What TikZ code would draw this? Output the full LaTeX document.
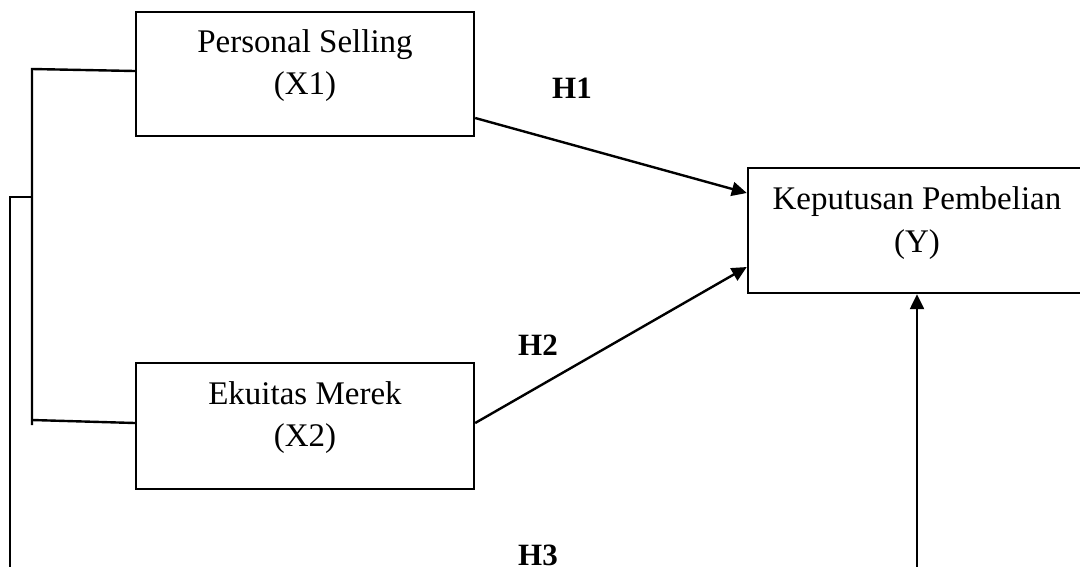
\documentclass[tikz,border=0pt]{standalone}
\usepackage{fontspec}
\setmainfont{Liberation Serif}
\usetikzlibrary{arrows.meta,calc}
\begin{document}
\begin{tikzpicture}[x=1pt,y=-1pt,
 box/.style={draw,line width=2.4pt,minimum width=338pt,minimum height=124pt,inner sep=0pt},
 lbl/.style={inner sep=0pt,anchor=base,font=\fontsize{33}{40}\selectfont},
 hyp/.style={inner sep=0pt,anchor=base west,font=\fontsize{31}{36}\selectfont\bfseries},
 conn/.style={line width=2.4pt},
 arr/.style={line width=2.4pt,-{Triangle[length=15pt,width=14pt]}}]
\useasboundingbox (0,0) rectangle (1080,566);
\clip (0,0) rectangle (1080,566);
% boxes
\node[box] (b1) at (305,74) {};
\node[box, minimum height=126pt] (b2) at (305,426) {};
\node[box, minimum height=125pt] (by) at (917,230.5) {};
% texts
\node[lbl] (t1a) at (305,52) {Personal Selling};
\node[lbl] (t1b) at (305,94) {(X1)};
\node[lbl] (t2a) at (305,404) {Ekuitas Merek};
\node[lbl] (t2b) at (305,446) {(X2)};
\node[lbl] (tya) at (917,209) {Keputusan Pembelian};
\node[lbl] (tyb) at (917,252) {(Y)};
% hypothesis labels
\node[hyp] (h1) at (552,98) {H1};
\node[hyp] (h2) at (518,355) {H2};
\node[hyp] (h3) at (518,565) {H3};
% junction coordinates
\coordinate (jt) at (32,69);
\coordinate (jm) at (32,197);
\coordinate (jb) at (32,420);
\coordinate (je) at (32,425);
\coordinate (om) at (10,197);
\coordinate (ob) at (10,575);
\coordinate (yb) at (917,575);
% arrows to Y
\draw[arr] ($(b1.east)+(0,44)$) -- ($(by.west)+(0,-37.5)$);
\draw[arr] ($(b2.east)+(0,-3)$) -- ($(by.west)+(0,36.5)$);
\draw[arr] (yb) -- (by.south);
% left bracket
\draw[conn] ($(b1.west)+(0,-3)$) -- (jt) -- (je);
\draw[conn] (jb) -- ($(b2.west)+(0,-3)$);
\draw[conn] (jm) -- (om) -- (ob);
\end{tikzpicture}
\end{document}
